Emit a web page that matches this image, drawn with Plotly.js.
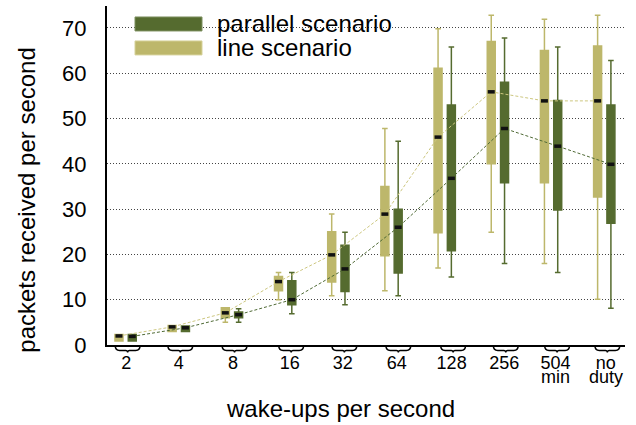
<!DOCTYPE html>
<html>
<head>
<meta charset="utf-8">
<script src="https://cdn.plot.ly/plotly-3.0.1.min.js"></script>
<style>html,body{margin:0;padding:0;background:#fff;}#chart{width:636px;height:425px;}</style>
</head>
<body>
<div id="chart"></div>
<script>
// ---- data ----
var categories = ['2', '4', '8', '16', '32', '64', '128', '256', '504 min', 'no duty'];
var seriesNames = ['parallel scenario', 'line scenario'];

// line scenario (light)
var lineLow    = [0.9, 3.0, 5.0, 10.0, 10.9, 12.0, 17.0, 24.9, 18.0, 10.1];
var lineQ1     = [0.9, 3.0, 6.0, 12.0, 13.9, 19.7, 24.8, 40.0, 35.8, 32.7];
var lineMedian = [2.0, 4.0, 7.1, 14.0, 19.9, 28.9, 45.9, 55.9, 53.9, 53.9];
var lineQ3     = [2.3, 4.3, 8.2, 15.1, 25.0, 35.0, 61.1, 67.0, 65.0, 66.0];
var lineHigh   = [2.3, 4.3, 8.2, 16.0, 28.9, 47.8, 69.8, 72.8, 71.9, 72.8];

// parallel scenario (dark)
var parLow    = [0.9, 3.0, 5.0, 6.9, 8.9, 10.9, 15.0, 18.0, 16.0, 8.1];
var parQ1     = [0.9, 3.0, 6.0, 8.9, 11.8, 15.9, 20.8, 35.8, 29.8, 26.9];
var parMedian = [1.9, 3.8, 6.7, 10.0, 16.8, 26.0, 36.8, 47.8, 43.9, 39.9];
var parQ3     = [2.3, 4.2, 7.3, 14.2, 22.0, 30.0, 53.0, 58.0, 54.0, 53.0];
var parHigh   = [2.3, 4.2, 8.0, 16.0, 24.9, 45.0, 65.8, 67.8, 65.8, 62.8];

var yTicks = [0, 10, 20, 30, 40, 50, 60, 70];

// ---- layout helpers (styling, not data) ----
var labelShift = [0.01, 0, 0.02, 0.085, 0.085, 0.1, 0.13, 0.12, 0.085, 0.03];
var colDark = '#556B2F', colLight = '#BDB76B';
var FONT = 'Liberation Sans, Arial, Helvetica, sans-serif';
var W = 636, H = 425, mL = 107, mR = 11, mT = 6, mB = 79.5;
var pw = W - mL - mR, ph = H - mT - mB;
var xMin = -0.35, xMax = 9.39;
function pxX(px) { return (px - mL) / pw; }
function pxY(py) { return (H - mB - py) / ph; }
function catPaper(v) { return (v - xMin) / (xMax - xMin); }

var idx = categories.map(function (c, i) { return i; });
var half = 0.125;

var traces = [
  {
    type: 'box', name: seriesNames[1], x: idx,
    q1: lineQ1, median: lineMedian, q3: lineQ3, lowerfence: lineLow, upperfence: lineHigh,
    fillcolor: colLight, line: { color: colLight, width: 1.5 }, whiskerwidth: 0.7,
    hoverinfo: 'skip', showlegend: false
  },
  {
    type: 'box', name: seriesNames[0], x: idx,
    q1: parQ1, median: parMedian, q3: parQ3, lowerfence: parLow, upperfence: parHigh,
    fillcolor: colDark, line: { color: colDark, width: 1.5 }, whiskerwidth: 0.7,
    hoverinfo: 'skip', showlegend: false
  },
  {
    type: 'scatter', mode: 'lines+markers',
    x: idx.map(function (i) { return i - half; }), y: lineMedian,
    line: { color: '#cdc77f', width: 1, dash: '3px,2px' },
    marker: { symbol: 'line-ew', size: 5, color: '#000', line: { color: '#111', width: 3.5 } },
    hoverinfo: 'skip', showlegend: false
  },
  {
    type: 'scatter', mode: 'lines+markers',
    x: idx.map(function (i) { return i + half; }), y: parMedian,
    line: { color: '#4f6a35', width: 1, dash: '3px,2px' },
    marker: { symbol: 'line-ew', size: 5, color: '#000', line: { color: '#111', width: 3.5 } },
    hoverinfo: 'skip', showlegend: false
  }
];

var shapes = [];
// white legend backdrop (between gridlines and traces)
shapes.push({ type: 'rect', xref: 'paper', yref: 'paper', layer: 'between',
  x0: pxX(122), x1: pxX(462), y0: pxY(62), y1: pxY(8),
  fillcolor: '#fff', line: { width: 0 } });
// legend swatches
shapes.push({ type: 'rect', xref: 'paper', yref: 'paper', layer: 'above',
  x0: pxX(135), x1: pxX(202), y0: pxY(31), y1: pxY(17),
  fillcolor: colDark, line: { color: '#7d9060', width: 1 } });
shapes.push({ type: 'rect', xref: 'paper', yref: 'paper', layer: 'above',
  x0: pxX(135), x1: pxX(202), y0: pxY(55), y1: pxY(41),
  fillcolor: colLight, line: { color: '#d6d29a', width: 1 } });
// braces under each category
idx.forEach(function (i) {
  shapes.push({
    type: 'path', xref: 'paper', yref: 'paper',
    xsizemode: 'pixel', ysizemode: 'pixel',
    xanchor: catPaper(i + labelShift[i]) + 1.5 / pw, yanchor: 0,
    path: 'M -12.5 0 C -12.5 -4 -11 -5.5 -8 -5.5 L -2 -5.5 Q 0 -5.5 0 -7.5 Q 0 -5.5 2 -5.5 L 8 -5.5 C 11 -5.5 12.5 -4 12.5 0',
    line: { color: '#000', width: 1.4 }
  });
});

var annotations = [
  { xref: 'paper', yref: 'paper', x: pxX(215), y: pxY(24), xanchor: 'left', yanchor: 'middle',
    text: seriesNames[0], showarrow: false, font: { family: FONT, size: 24, color: '#000' } },
  { xref: 'paper', yref: 'paper', x: pxX(215), y: pxY(48), xanchor: 'left', yanchor: 'middle',
    text: seriesNames[1], showarrow: false, font: { family: FONT, size: 24, color: '#000' } },
  { xref: 'paper', yref: 'paper', x: pxX(340.5), y: pxY(409), xanchor: 'center', yanchor: 'middle',
    text: 'wake-ups per second', showarrow: false, font: { family: FONT, size: 24, color: '#000' } },
  { xref: 'paper', yref: 'paper', x: pxX(27), y: pxY(200), xanchor: 'center', yanchor: 'middle',
    textangle: -90, text: 'packets received per second', showarrow: false,
    font: { family: FONT, size: 24, color: '#000' } }
];
categories.forEach(function (c, i) {
  var parts = c.split(' ');
  if (parts.length > 1) {
    annotations.push({ xref: 'x', yref: 'paper', x: i + labelShift[i], y: pxY(378),
      xanchor: 'center', yanchor: 'middle', text: parts[1], showarrow: false,
      font: { family: FONT, size: 18, color: '#000' } });
  }
});

var layout = {
  width: W, height: H,
  margin: { l: mL, r: mR, t: mT, b: mB, pad: 0 },
  paper_bgcolor: '#fff', plot_bgcolor: '#fff',
  showlegend: false,
  boxmode: 'group', boxgap: 0.5, boxgroupgap: 0.4,
  font: { family: FONT, color: '#000' },
  xaxis: {
    type: 'linear', range: [xMin, xMax], autorange: false,
    tickmode: 'array',
    tickvals: idx.map(function (i) { return i + labelShift[i]; }),
    ticktext: categories.map(function (c) { return c.split(' ')[0]; }),
    tickfont: { family: FONT, size: 18, color: '#000' },
    ticks: '', ticklabelstandoff: 0,
    showgrid: false, zeroline: false,
    showline: true, linecolor: '#000', linewidth: 2
  },
  yaxis: {
    range: [0, 74.85], autorange: false,
    tickmode: 'array', tickvals: yTicks, ticktext: yTicks.map(String),
    tickfont: { family: FONT, size: 22, color: '#000' },
    ticks: 'outside', ticklen: 14, tickcolor: 'rgba(0,0,0,0)',
    showgrid: true, gridcolor: '#444', griddash: '1px,2px', gridwidth: 1,
    zeroline: false, showline: true, linecolor: '#000', linewidth: 2
  },
  shapes: shapes,
  annotations: annotations
};

Plotly.newPlot('chart', traces, layout, { staticPlot: true, displayModeBar: false });
</script>
</body>
</html>
